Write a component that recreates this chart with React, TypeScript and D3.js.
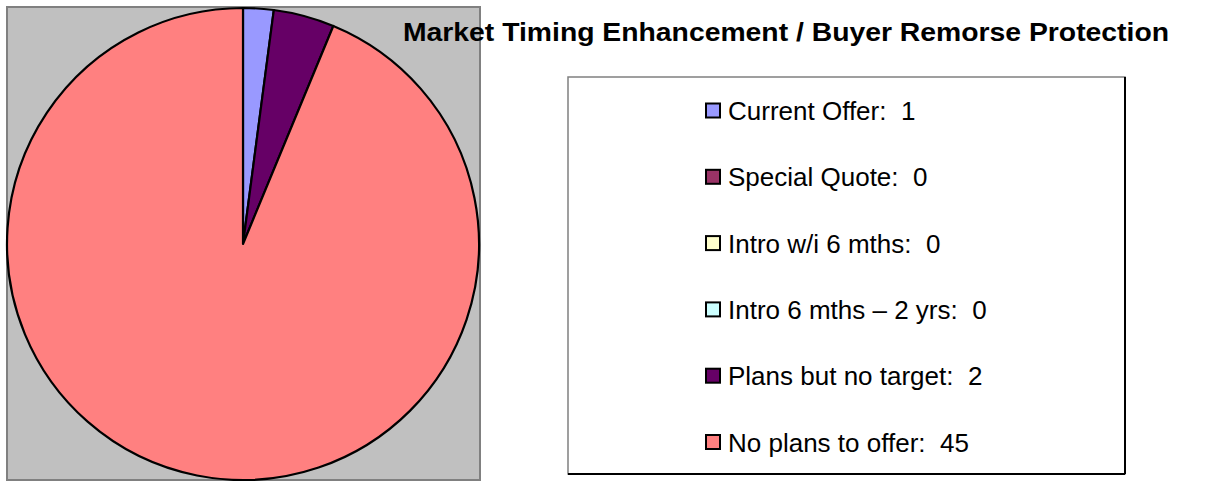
import React from 'react';
import * as d3 from 'd3';

const categories = ['Current Offer', 'Special Quote', 'Intro w/i 6 mths', 'Intro 6 mths – 2 yrs', 'Plans but no target', 'No plans to offer'];
const values = [1, 0, 0, 0, 2, 45];
const colors = ['#9999FF', '#993366', '#FFFFCC', '#CCFFFF', '#660066', '#FF8080'];
const title = 'Market Timing Enhancement / Buyer Remorse Protection';

export default function App() {
  const W = 1210, H = 481;
  const cx = 243, cy = 244, r = 236;
  const data = categories.map((c, i) => ({ c, v: values[i], col: colors[i] }));
  const pie = d3.pie<any>().sort(null).value((d: any) => d.v);
  const arcs = pie(data);
  const arc = d3.arc<any>().innerRadius(0).outerRadius(r);
  const legendX = 568, legendY = 77, legendW = 557, legendH = 397;
  const rowY = d3.scaleLinear().domain([0, 5]).range([110.5, 442]);
  const font = '"Liberation Sans", Arial, sans-serif';
  return (
    <svg width={W} height={H} style={{ position: 'absolute', left: 0, top: 0 }}>
      <rect x={7} y={7} width={473} height={473} fill="#C0C0C0" stroke="#808080" strokeWidth={2} />
      <g transform={`translate(${cx},${cy})`}>
        {arcs.filter(a => a.data.v > 0).map((a, i) => (
          <path key={i} d={arc(a) as string} fill={a.data.col} stroke="#000" strokeWidth={2.2} strokeLinejoin="round" />
        ))}
      </g>
      <text x={403} y={40.5} fontFamily={font} fontWeight="bold" fontSize={26} fill="#000" textLength={766} lengthAdjust="spacingAndGlyphs">{title}</text>
      <rect x={legendX} y={legendY} width={legendW} height={legendH} fill="#fff" stroke="#808080" strokeWidth={1.5} />
      <line x1={legendX + legendW} y1={legendY} x2={legendX + legendW} y2={legendY + legendH} stroke="#000" strokeWidth={2} />
      <line x1={legendX} y1={legendY + legendH} x2={legendX + legendW} y2={legendY + legendH} stroke="#000" strokeWidth={2} />
      {data.map((d, i) => (
        <g key={i}>
          <rect x={706} y={rowY(i) - 7} width={14} height={14} fill={d.col} stroke="#000" strokeWidth={2} />
          <text x={728} y={rowY(i) + 9.5} fontFamily={font} fontSize={26} fill="#000" style={{ whiteSpace: 'pre' }}>{`${d.c}:  ${d.v}`}</text>
        </g>
      ))}
    </svg>
  );
}
